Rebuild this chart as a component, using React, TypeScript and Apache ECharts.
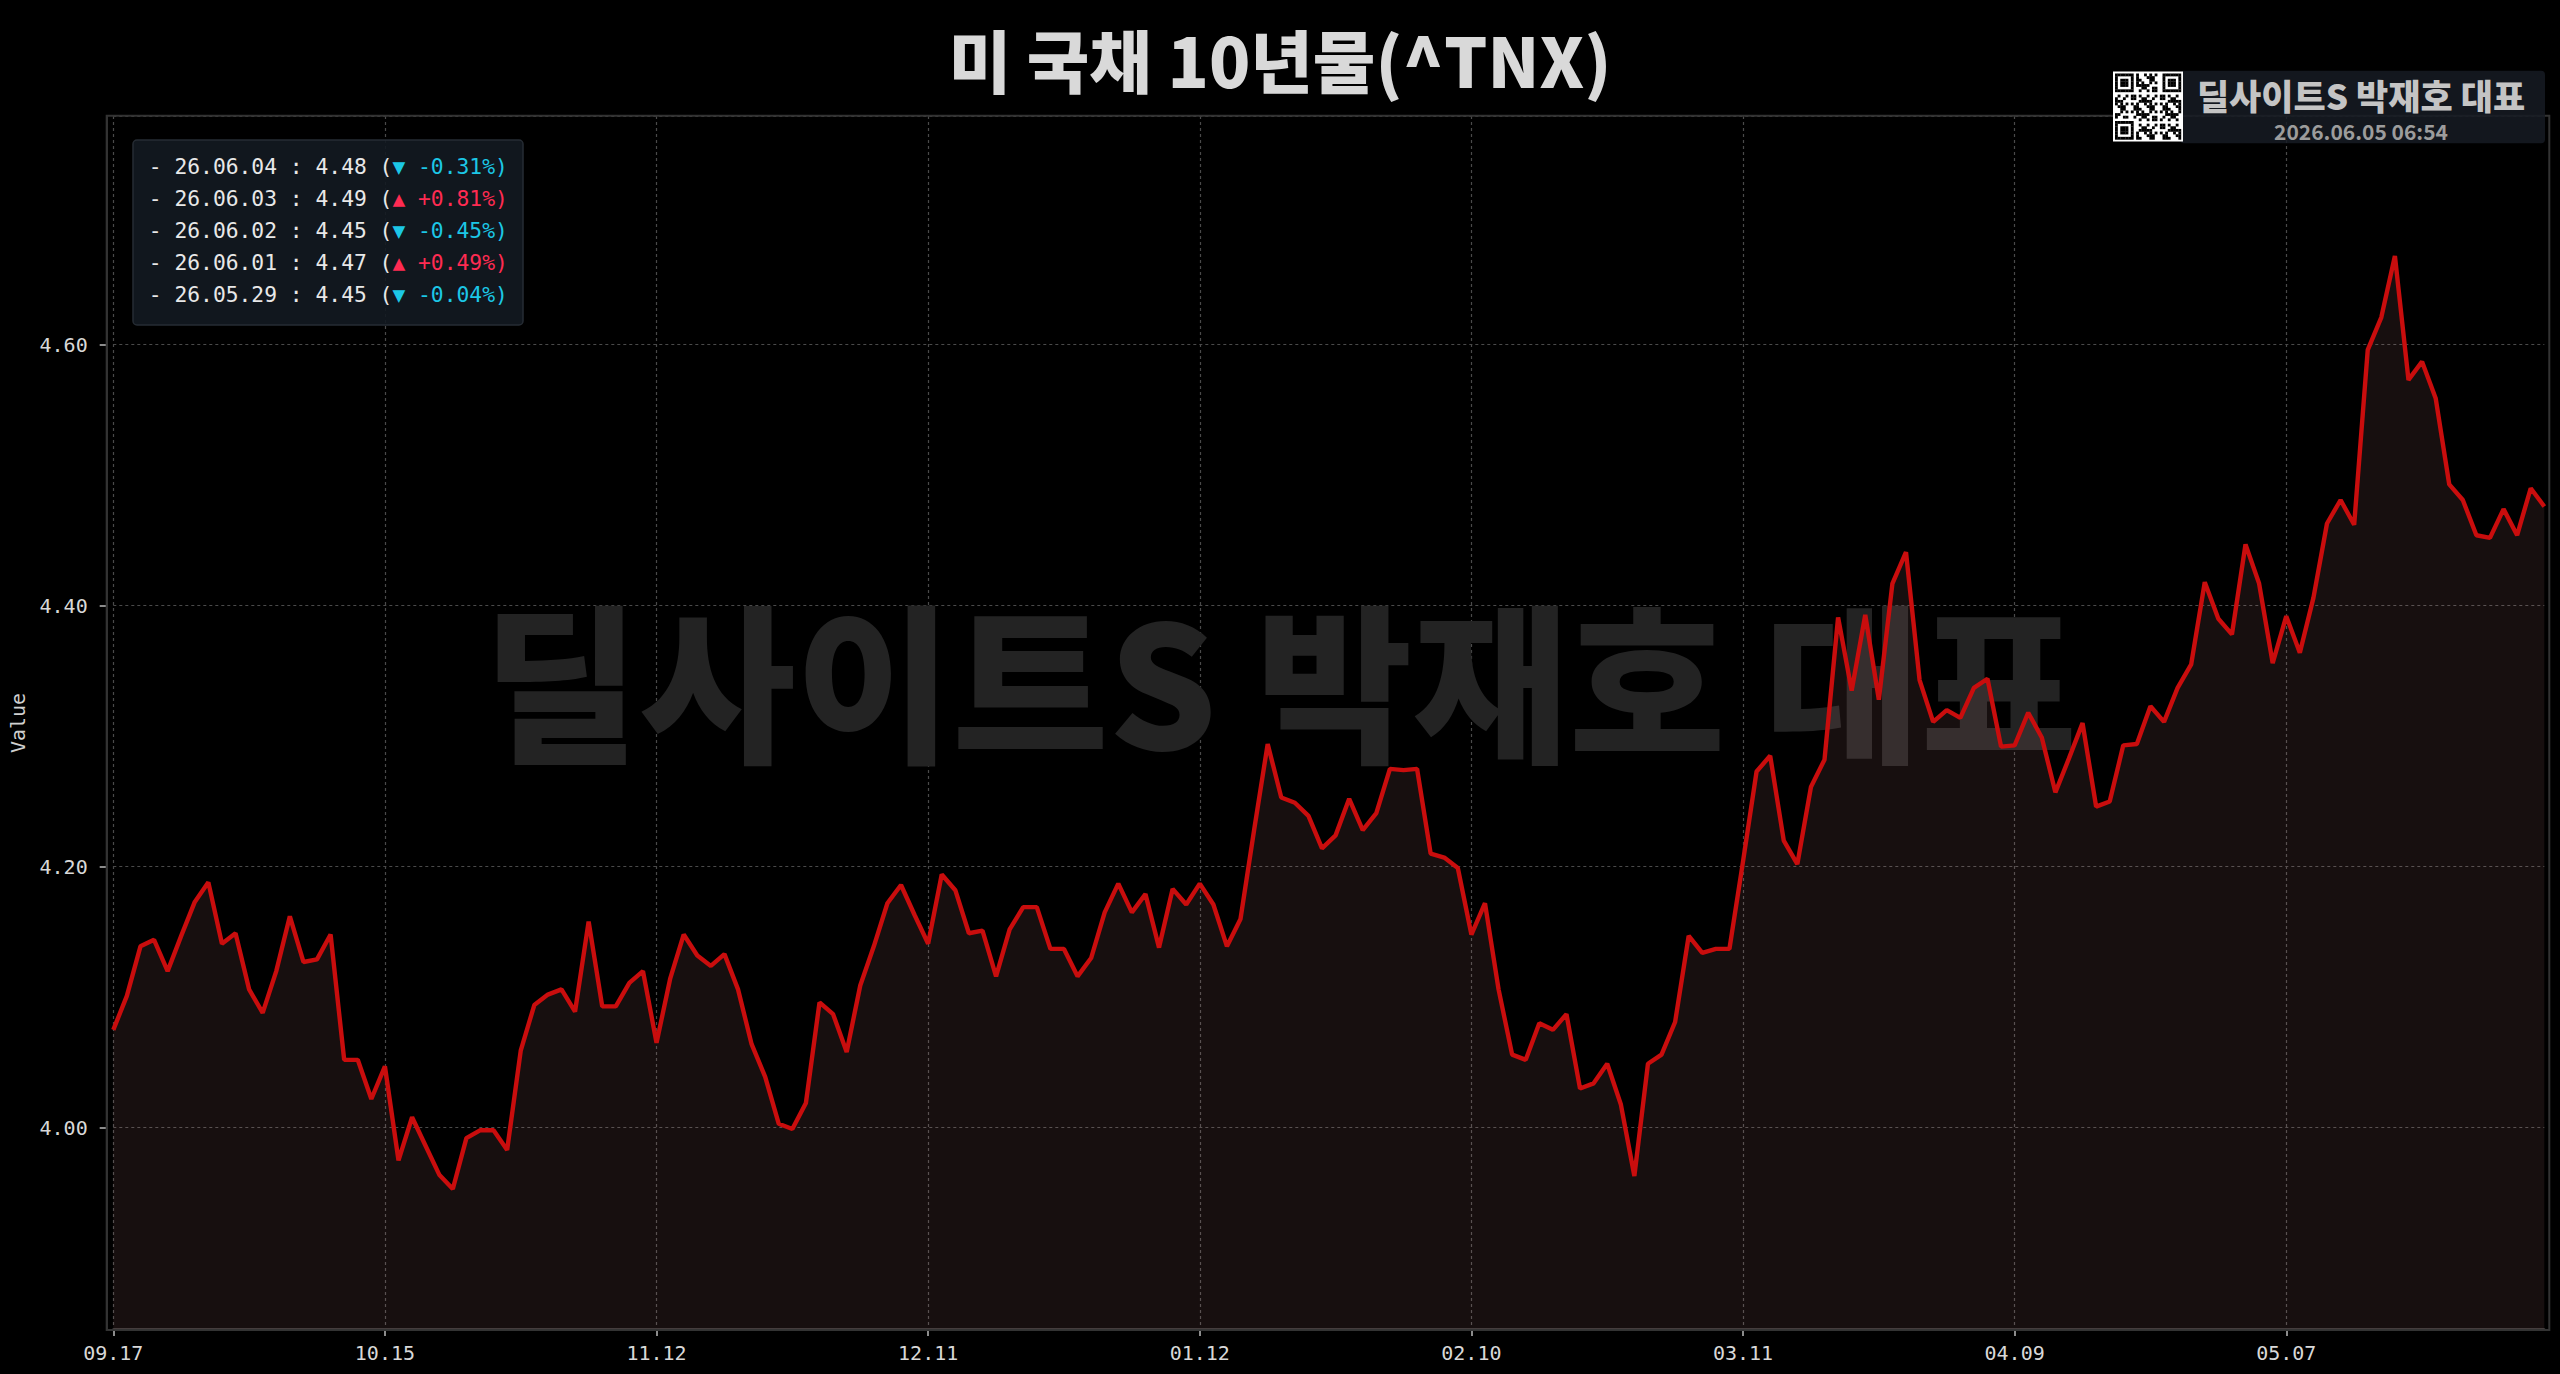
import React, { useEffect, useRef } from "react";
import * as echarts from "echarts";

// Trading days (MM.DD), 2025-09-17 .. 2026-06-04
const DATES: string[] = [
  "09.17","09.18","09.19","09.22","09.23","09.24","09.25","09.26","09.29","09.30",
  "10.01","10.02","10.03","10.06","10.07","10.08","10.09","10.10","10.13","10.14","10.15","10.16","10.17","10.20","10.21","10.22","10.23","10.24","10.27","10.28","10.29","10.30","10.31",
  "11.03","11.04","11.05","11.06","11.07","11.10","11.11","11.12","11.13","11.14","11.17","11.18","11.19","11.20","11.21","11.24","11.25","11.26","11.28",
  "12.01","12.02","12.03","12.04","12.05","12.08","12.09","12.10","12.11","12.12","12.15","12.16","12.17","12.18","12.19","12.22","12.23","12.24","12.26","12.29","12.30","12.31",
  "01.02","01.05","01.06","01.07","01.08","01.09","01.12","01.13","01.14","01.15","01.16","01.20","01.21","01.22","01.23","01.26","01.27","01.28","01.29","01.30",
  "02.02","02.03","02.04","02.05","02.06","02.09","02.10","02.11","02.12","02.13","02.17","02.18","02.19","02.20","02.23","02.24","02.25","02.26","02.27",
  "03.02","03.03","03.04","03.05","03.06","03.09","03.10","03.11","03.12","03.13","03.16","03.17","03.18","03.19","03.20","03.23","03.24","03.25","03.26","03.27","03.30","03.31",
  "04.01","04.02","04.06","04.07","04.08","04.09","04.10","04.13","04.14","04.15","04.16","04.17","04.20","04.21","04.22","04.23","04.24","04.27","04.28","04.29","04.30",
  "05.01","05.04","05.05","05.06","05.07","05.08","05.11","05.12","05.13","05.14","05.15","05.18","05.19","05.20","05.21","05.22","05.26","05.27","05.28","05.29",
  "06.01","06.02","06.03","06.04",
];

// 10Y yield (^TNX) values
const VALUES: number[] = [
  4.075,4.101,4.139,4.144,4.120,4.147,4.173,4.188,4.141,4.149,
  4.106,4.088,4.120,4.162,4.127,4.129,4.148,4.052,4.052,4.022,
  4.047,3.975,4.008,3.986,3.964,3.953,3.992,3.998,3.998,3.983,
  4.059,4.094,4.102,4.106,4.089,4.158,4.093,4.093,4.111,4.120,
  4.065,4.114,4.148,4.132,4.124,4.133,4.106,4.064,4.039,4.003,
  3.999,4.019,4.096,4.087,4.058,4.109,4.139,4.172,4.186,4.163,
  4.141,4.194,4.182,4.149,4.151,4.116,4.152,4.169,4.169,4.137,
  4.137,4.116,4.130,4.165,4.187,4.165,4.179,4.138,4.183,4.171,
  4.187,4.171,4.139,4.160,4.228,4.294,4.253,4.249,4.239,4.214,
  4.224,4.252,4.228,4.241,4.275,4.274,4.275,4.210,4.207,4.199,
  4.148,4.172,4.106,4.056,4.052,4.080,4.075,4.087,4.030,4.034,
  4.049,4.018,3.963,4.049,4.056,4.081,4.147,4.134,4.137,4.137,
  4.204,4.273,4.285,4.220,4.202,4.261,4.282,4.391,4.335,4.393,
  4.328,4.417,4.441,4.343,4.311,4.320,4.314,4.337,4.344,4.292,
  4.293,4.318,4.299,4.257,4.283,4.310,4.246,4.250,4.293,4.294,
  4.323,4.311,4.337,4.355,4.418,4.390,4.378,4.447,4.417,4.356,
  4.392,4.364,4.406,4.463,4.481,4.462,4.596,4.621,4.668,4.573,
  4.587,4.559,4.493,4.481,4.454,4.452,4.474,4.454,4.490,4.476,
];

const TITLE = "미 국채 10년물(^TNX)";
const BRAND = "딜사이트S 박재호 대표";
const STAMP = "2026.06.05 06:54";
const YEAR_PREFIX = "26.";
const LEGEND_COUNT = 5;
const LABEL_STEP = 20;

const MONO = "DejaVu Sans Mono";
const KR = "Noto Sans CJK KR";

function buildLegendText(): string {
  const rows: string[] = [];
  const n = VALUES.length;
  for (let k = 0; k < LEGEND_COUNT; k++) {
    const i = n - 1 - k;
    const v = VALUES[i];
    const p = (v / VALUES[i - 1] - 1) * 100;
    const up = p >= 0;
    const pct = (up ? "+" : "-") + Math.abs(p).toFixed(2) + "%";
    const cls = up ? "up" : "dn";
    const arrow = up ? "▲" : "▼";
    rows.push(`{w|- ${YEAR_PREFIX}${DATES[i]} : ${v.toFixed(2)} (}{${cls}|${arrow} ${pct})}`);
  }
  return rows.join("\n");
}

function qrElements(x0: number, y0: number, size: number): any[] {
  const N = 25;
  const m = size / N;
  const els: any[] = [
    { type: "rect", z: 100, shape: { x: x0 - 2, y: y0 - 2, width: size + 4, height: size + 4 }, style: { fill: "#ffffff" } },
  ];
  const finders = [[0, 0], [0, N - 7], [N - 7, 0]];
  const dark = (r: number, c: number) => {
    for (const [fr, fc] of finders) {
      const rr = r - fr, cc = c - fc;
      if (rr >= -1 && rr <= 7 && cc >= -1 && cc <= 7) {
        if (rr < 0 || rr > 6 || cc < 0 || cc > 6) return false;
        if (rr === 0 || rr === 6 || cc === 0 || cc === 6) return true;
        return rr >= 2 && rr <= 4 && cc >= 2 && cc <= 4;
      }
    }
    return ((r * 31 + c * 17 + r * c * 7) % 11) < 5;
  };
  for (let r = 0; r < N; r++) {
    for (let c = 0; c < N; c++) {
      if (dark(r, c)) {
        els.push({ type: "rect", z: 101, shape: { x: x0 + c * m, y: y0 + r * m, width: m + 0.2, height: m + 0.2 }, style: { fill: "#000000" } });
      }
    }
  }
  return els;
}

export default function App() {
  const ref = useRef<HTMLDivElement>(null);

  useEffect(() => {
    document.body.style.margin = "0";
    document.body.style.background = "#000";
    if (!ref.current) return;
    const chart = echarts.init(ref.current, undefined, { renderer: "svg" });

    const option: any = {
      animation: false,
      backgroundColor: "#000000",
      grid: { left: 113.3, right: 15.7, top: 116, bottom: 45 },
      xAxis: {
        type: "category",
        data: DATES,
        boundaryGap: false,
        axisLine: { show: true, lineStyle: { color: "#333333", width: 2 } },
        axisTick: { show: true, interval: LABEL_STEP - 1, length: 7, lineStyle: { color: "#bbbbbb", width: 1.5 } },
        axisLabel: { interval: LABEL_STEP - 1, color: "#d8d8d8", fontFamily: MONO, fontSize: 20, margin: 14 },
        splitLine: { show: true, interval: LABEL_STEP - 1, lineStyle: { color: "#4a4a4a", type: [3, 3], width: 1.2 } },
      },
      yAxis: {
        type: "value",
        min: (e: any) => e.min - (e.max - e.min) * 0.15,
        max: (e: any) => e.max + (e.max - e.min) * 0.15,
        offset: 6.6,
        axisLine: { show: true, lineStyle: { color: "#333333", width: 2 } },
        axisTick: { show: true, length: 7, lineStyle: { color: "#bbbbbb", width: 1.5 } },
        axisLabel: {
          color: "#d8d8d8", fontFamily: MONO, fontSize: 20, margin: 19,
          showMinLabel: false, showMaxLabel: false,
          formatter: (v: number) => v.toFixed(2),
        },
        splitLine: { show: true, lineStyle: { color: "#4a4a4a", type: [3, 3], width: 1.2 } },
      },
      series: [
        {
          type: "line",
          data: VALUES,
          symbol: "none",
          showSymbol: false,
          z: 3,
          lineStyle: { color: "#c90d0d", width: 4.4 },
          areaStyle: { color: "rgba(230,150,150,0.14)", origin: "start" },
        },
      ],
      graphic: [
        // watermark (under the series)
        {
          type: "text", z: 1, x: 1280, y: 676, silent: true,
          style: { text: BRAND, fill: "#232323", fontFamily: KR, fontWeight: 900, fontSize: 170, textAlign: "center", textVerticalAlign: "middle" },
        },
        // plot border
        {
          type: "rect", z: 50, silent: true,
          shape: { x: 106.7, y: 115.7, width: 2442.6, height: 1214.3 },
          style: { fill: "none", stroke: "#333333", lineWidth: 2 },
        },
        // title
        {
          type: "text", z: 100, x: 1280, y: 58,
          style: { text: TITLE, fill: "#d9d9d9", fontFamily: KR, fontWeight: 900, fontSize: 68, lineHeight: 70, textAlign: "center", textVerticalAlign: "middle" },
        },
        // y axis name
        {
          type: "text", z: 100, x: 18, y: 723, rotation: Math.PI / 2,
          style: { text: "Value", fill: "#d0d0d0", fontFamily: MONO, fontSize: 20, textAlign: "center", textVerticalAlign: "middle" },
        },
        // legend box
        {
          type: "rect", z: 100,
          shape: { x: 133, y: 140, width: 390, height: 185, r: 4 },
          style: { fill: "rgba(19,25,33,0.9)", stroke: "#262c34", lineWidth: 1.5 },
        },
        {
          type: "text", z: 101, x: 148.8, y: 150.7,
          style: {
            text: buildLegendText(),
            textAlign: "left", textVerticalAlign: "top",
            rich: {
              w: { fill: "#e8e8e8", fontFamily: MONO, fontSize: 21.3, lineHeight: 32 },
              up: { fill: "#ff2b52", fontFamily: MONO, fontSize: 21.3, lineHeight: 32 },
              dn: { fill: "#1cc7e6", fontFamily: MONO, fontSize: 21.3, lineHeight: 32 },
            },
          },
        },
        // brand box (top right)
        {
          type: "rect", z: 100,
          shape: { x: 2180, y: 70.7, width: 365, height: 72.6, r: 4 },
          style: { fill: "rgba(22,27,35,0.85)" },
        },
        {
          type: "text", z: 101, x: 2361, y: 94,
          style: { text: BRAND, fill: "#c4c4c4", fontFamily: KR, fontWeight: 900, fontSize: 35, lineHeight: 35, textAlign: "center", textVerticalAlign: "middle" },
        },
        {
          type: "text", z: 101, x: 2361, y: 130.5,
          style: { text: STAMP, fill: "#9c9c9c", fontFamily: KR, fontWeight: "bold", fontSize: 21, lineHeight: 21, textAlign: "center", textVerticalAlign: "middle" },
        },
        ...qrElements(2115, 73.5, 66),
      ],
    };

    chart.setOption(option);
    return () => chart.dispose();
  }, []);

  return <div ref={ref} style={{ width: 2560, height: 1374, background: "#000" }} />;
}
